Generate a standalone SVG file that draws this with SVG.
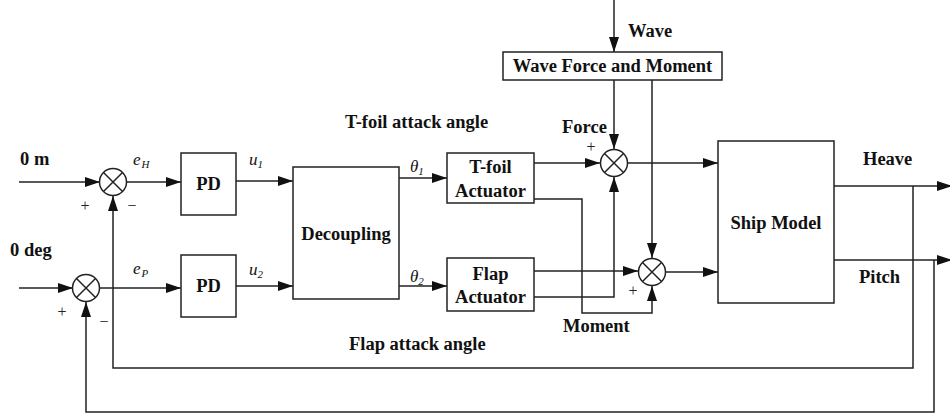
<svg xmlns="http://www.w3.org/2000/svg" width="950" height="414" viewBox="0 0 950 414">
<defs>
<marker id="arr" markerUnits="userSpaceOnUse" markerWidth="15" markerHeight="10" refX="15" refY="5" orient="auto">
<path d="M0,0 L15,5 L0,10 z" fill="#111"/>
</marker>
<style>
.box{fill:#fff;stroke:#222;stroke-width:1.5}
.ln{fill:none;stroke:#222;stroke-width:1.5}
.ar{fill:none;stroke:#222;stroke-width:1.5;marker-end:url(#arr)}
.t{font-family:'Liberation Serif','Times New Roman','DejaVu Serif',serif;font-weight:700;font-size:18.5px;fill:#111}
.m{font-family:'Liberation Serif','Times New Roman',serif;font-style:italic;font-size:17px;fill:#111}
.s{font-family:'Liberation Serif','Times New Roman',serif;font-size:11px;fill:#111}
.sg{font-family:'Liberation Serif','Times New Roman',serif;font-size:16px;fill:#222}
</style>
</defs>
<rect width="950" height="414" fill="#fff"/>

<g id="connectors">
<line class="ar" x1="19" y1="182" x2="100" y2="182"/>
<line class="ar" x1="127" y1="182" x2="181" y2="182"/>
<line class="ar" x1="236" y1="181" x2="293" y2="181"/>
<line class="ar" x1="19" y1="288" x2="73" y2="288"/>
<line class="ar" x1="99" y1="288" x2="181" y2="288"/>
<line class="ar" x1="236" y1="286" x2="293" y2="286"/>
<line class="ar" x1="399" y1="178" x2="447" y2="178"/>
<line class="ar" x1="399" y1="286" x2="447" y2="286"/>
<line class="ar" x1="534" y1="163" x2="600" y2="163"/>
<polyline class="ar" points="534,199 582,199 582,313 652,313 652,286"/>
<line class="ar" x1="534" y1="271" x2="638" y2="271"/>
<polyline class="ar" points="534,297 614,297 614,177"/>
<line class="ar" x1="614" y1="0" x2="614" y2="52"/>
<line class="ar" x1="614" y1="80" x2="614" y2="149"/>
<line class="ar" x1="652" y1="80" x2="652" y2="258"/>
<line class="ar" x1="628" y1="163" x2="718" y2="163"/>
<line class="ar" x1="666" y1="272" x2="718" y2="272"/>
<line class="ar" x1="834" y1="186" x2="952" y2="186"/>
<line class="ar" x1="834" y1="260" x2="952" y2="260"/>
<polyline class="ar" points="913,186 913,368 113,368 113,196"/>
<polyline class="ar" points="934,260 934,412 86,412 86,302"/>
</g>

<g id="sum1">
<circle class="box" cx="113" cy="182" r="13.5"/>
<path class="ln" d="M103.5,172.5 L122.5,191.5 M122.5,172.5 L103.5,191.5"/>
</g>
<g id="sum2">
<circle class="box" cx="86" cy="288" r="13.5"/>
<path class="ln" d="M76.5,278.5 L95.5,297.5 M95.5,278.5 L76.5,297.5"/>
</g>
<g id="sumForce">
<circle class="box" cx="614" cy="163" r="13.5"/>
<path class="ln" d="M604.5,153.5 L623.5,172.5 M623.5,153.5 L604.5,172.5"/>
</g>
<g id="sumMoment">
<circle class="box" cx="652" cy="272" r="13.5"/>
<path class="ln" d="M642.5,262.5 L661.5,281.5 M661.5,262.5 L642.5,281.5"/>
</g>

<g id="pd1">
<rect class="box" x="181" y="153" width="55" height="62"/>
<text class="t" x="208.5" y="190" text-anchor="middle">PD</text>
</g>
<g id="pd2">
<rect class="box" x="181" y="255" width="55" height="62"/>
<text class="t" x="208.5" y="292" text-anchor="middle">PD</text>
</g>
<g id="decoupling">
<rect class="box" x="293" y="167" width="106" height="132"/>
<text class="t" x="346" y="240" text-anchor="middle">Decoupling</text>
</g>
<g id="tfoil">
<rect class="box" x="447" y="153" width="87" height="50"/>
<text class="t" x="490.5" y="173" text-anchor="middle">T-foil</text>
<text class="t" x="490.5" y="197" text-anchor="middle">Actuator</text>
</g>
<g id="flap">
<rect class="box" x="447" y="258" width="87" height="53"/>
<text class="t" x="490.5" y="280" text-anchor="middle">Flap</text>
<text class="t" x="490.5" y="303" text-anchor="middle">Actuator</text>
</g>
<g id="wavebox">
<rect class="box" x="503" y="52" width="219" height="28"/>
<text class="t" x="612.5" y="72" text-anchor="middle">Wave Force and Moment</text>
</g>
<g id="ship">
<rect class="box" x="718" y="141" width="116" height="162"/>
<text class="t" x="776" y="229" text-anchor="middle">Ship Model</text>
</g>

<g id="labels">
<text class="t" x="20" y="165">0 m</text>
<text class="t" x="10" y="256">0 deg</text>
<text class="t" x="628" y="37">Wave</text>
<text class="t" x="345" y="128">T-foil attack angle</text>
<text class="t" x="562" y="133">Force</text>
<text class="t" x="563" y="332">Moment</text>
<text class="t" x="349" y="350">Flap attack angle</text>
<text class="t" x="863" y="165">Heave</text>
<text class="t" x="859" y="283">Pitch</text>
<text class="m" x="133" y="165">e<tspan class="s" dx="1" dy="3">H</tspan></text>
<text class="m" x="133" y="274">e<tspan class="s" dx="1" dy="3">P</tspan></text>
<text class="m" x="249" y="165">u<tspan class="s" dx="0" dy="3">1</tspan></text>
<text class="m" x="249" y="275">u<tspan class="s" dx="0" dy="3">2</tspan></text>
<text class="m" x="410" y="172">θ<tspan class="s" dx="0" dy="3">1</tspan></text>
<text class="m" x="410" y="282">θ<tspan class="s" dx="0" dy="3">2</tspan></text>
<text class="sg" x="85" y="211" text-anchor="middle">+</text>
<text class="sg" x="132" y="211" text-anchor="middle">−</text>
<text class="sg" x="62" y="317" text-anchor="middle">+</text>
<text class="sg" x="104" y="327" text-anchor="middle">−</text>
<text class="sg" x="591" y="152" text-anchor="middle">+</text>
<text class="sg" x="633" y="296" text-anchor="middle">+</text>
</g>
</svg>
